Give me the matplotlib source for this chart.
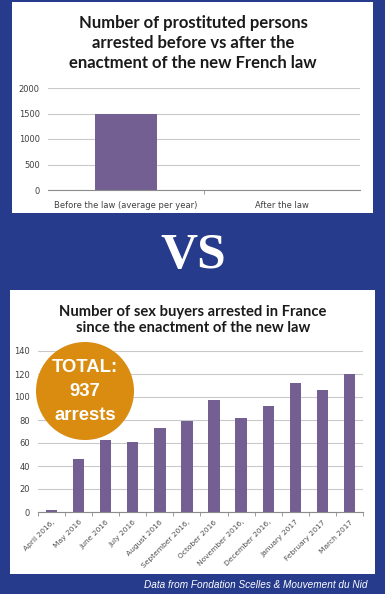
import matplotlib
matplotlib.use("Agg")
import matplotlib.pyplot as plt
from matplotlib.patches import Rectangle, Ellipse

W, H = 385, 594
BLUE = "#263b8b"
PURPLE = "#745f92"
ORANGE = "#d98c10"
GRID = "#c9c9c9"
AXC = "#8c8c8c"
TXT = "#404040"

# ---- data ----
before_cats = ["Before the law (average per year)", "After the law"]
before_vals = [1500, 0]
before_ticks = [0, 500, 1000, 1500, 2000]

months = ["April 2016,", "May 2016", "June 2016", "July 2016", "August 2016",
          "September 2016,", "October 2016", "November 2016,", "December 2016,",
          "January 2017", "February 2017", "March 2017"]
buyers = [2, 46, 63, 61, 73, 79, 97, 82, 92, 112, 106, 120]
buyer_ticks = [0, 20, 40, 60, 80, 100, 120, 140]

fig = plt.figure(figsize=(W / 100, H / 100), dpi=100)
fig.patch.set_facecolor(BLUE)


def box(x0, y0, x1, y1):
    # pixel coords, y from top
    return [x0 / W, 1 - y1 / H, (x1 - x0) / W, (y1 - y0) / H]


def panel(x0, y0, x1, y1):
    l, b, w, h = box(x0, y0, x1, y1)
    fig.patches.append(Rectangle((l, b), w, h, transform=fig.transFigure,
                                 facecolor="white", edgecolor="none", zorder=-5))


def style(ax, ticks):
    ax.set_facecolor("none")
    for s in ("top", "right", "left"):
        ax.spines[s].set_visible(False)
    ax.spines["bottom"].set_color(AXC)
    ax.spines["bottom"].set_linewidth(0.8)
    ax.set_yticks(ticks)
    ax.set_ylim(ticks[0], ticks[-1])
    ax.grid(axis="y", color=GRID, linewidth=0.8)
    ax.set_axisbelow(True)
    ax.tick_params(axis="y", length=0, labelsize=6, labelcolor=TXT, pad=6)


panel(12, 2, 373, 213)
panel(10, 290, 375, 574)

# ---- top chart ----
ax1 = fig.add_axes(box(48, 88, 360, 190))
style(ax1, before_ticks)
x1 = range(len(before_cats))
ax1.bar(x1, before_vals, width=0.4, color=PURPLE)
ax1.set_xlim(-0.5, len(before_cats) - 0.5)
ax1.set_xticks(list(x1))
ax1.set_xticklabels(before_cats)
ax1.set_xticks([0.5], minor=True)
ax1.tick_params(axis="x", which="major", length=0, labelsize=6, labelcolor=TXT, pad=8)
ax1.tick_params(axis="x", which="minor", length=3, color=AXC, direction="out")
fig.text(193 / W, 1 - 43 / H,
         "Number of prostituted persons\narrested before vs after the\nenactment of the new French law",
         ha="center", va="center", fontsize=12, fontweight="bold", family="Lato",
         color="#1a1a1a", linespacing=1.3)

# ---- VS ----
fig.text(193 / W, 1 - 256 / H, "VS", ha="center", va="center", fontsize=37,
         fontweight="bold", family="Liberation Serif", color="white")

# ---- bottom chart ----
ax2 = fig.add_axes(box(38, 351, 363, 512))
style(ax2, buyer_ticks)
x2 = list(range(len(months)))
ax2.bar(x2, buyers, width=0.42, color=PURPLE)
ax2.set_xlim(-0.5, len(months) - 0.5)
ax2.set_xticks(x2)
ax2.set_xticklabels(months, rotation=45, ha="right", rotation_mode="anchor")
ax2.set_xticks([i + 0.5 for i in range(-1, len(months))], minor=True)
ax2.tick_params(axis="x", which="major", length=0, labelsize=5.4, labelcolor="#505050", pad=5)
ax2.tick_params(axis="x", which="minor", length=3, color=AXC, direction="out")
fig.text(193 / W, 1 - 320 / H,
         "Number of sex buyers arrested in France\nsince the enactment of the new law",
         ha="center", va="center", fontsize=10.6, fontweight="bold", family="Lato",
         color="#1a1a1a", linespacing=1.25)

# ---- total badge ----
r = 49
fig.patches.append(Ellipse((85 / W, 1 - 391 / H), 2 * r / W, 2 * r / H,
                           transform=fig.transFigure, facecolor=ORANGE,
                           edgecolor="none", zorder=5))
for txt, yy in (("TOTAL:", 367), ("937", 391), ("arrests", 416)):
    t = fig.text(85 / W, 1 - yy / H, txt, ha="center", va="center", fontsize=13.3,
                 fontweight="bold", family="Liberation Sans", color="white")
    t.set_zorder(6)

fig.text(368 / W, 1 - 585 / H, "Data from Fondation Scelles & Mouvement du Nid",
         ha="right", va="center", fontsize=7.2, style="italic",
         family="Liberation Sans", color="white")

fig.savefig("out.png", dpi=100, facecolor=BLUE)
